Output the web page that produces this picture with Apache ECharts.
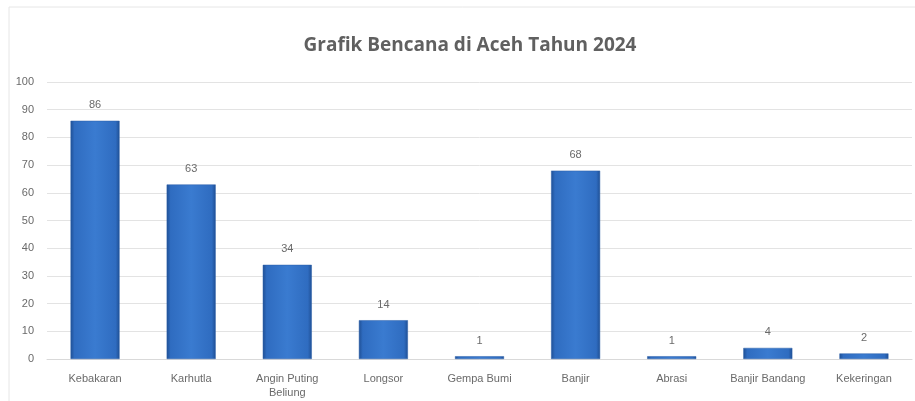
<!DOCTYPE html>
<html><head><meta charset="utf-8">
<script src="https://cdn.jsdelivr.net/npm/echarts@6/dist/echarts.min.js"></script>
<style>html,body{margin:0;padding:0;background:#fff}#c{width:915px;height:401px}</style>
</head><body><div id="c"></div>
<script>
const categories = ["Kebakaran","Karhutla","Angin Puting\nBeliung","Longsor","Gempa Bumi","Banjir","Abrasi","Banjir Bandang","Kekeringan"];
const values = [86,63,34,14,1,68,1,4,2];
const yTicks = {min:0,max:100,interval:10};

const chart = echarts.init(document.getElementById('c'));
chart.setOption({
  backgroundColor:'#fff',
  graphic:[{type:'rect',shape:{x:9,y:7,width:920,height:400},style:{fill:'none',stroke:'#e6e6e6',lineWidth:1},silent:true}],
  title:{text:'Grafik Bencana di Aceh Tahun 2024',left:465,top:31,textAlign:'center',
    textStyle:{fontFamily:'Open Sans',fontSize:19,fontWeight:'bold',color:'#606060'}},
  grid:{left:47,right:3,top:82,bottom:42,containLabel:false},
  xAxis:{type:'category',data:categories,
    axisLine:{lineStyle:{color:'#d9d9d9'}},axisTick:{show:false},
    axisLabel:{color:'#6a6a6a',fontFamily:'Liberation Sans',fontSize:11,margin:13,lineHeight:14,interval:0}},
  yAxis:{type:'value',min:yTicks.min,max:yTicks.max,interval:yTicks.interval,
    axisLine:{show:false},axisTick:{show:false},
    splitLine:{lineStyle:{color:'#e3e3e3'}},
    axisLabel:{color:'#6a6a6a',fontFamily:'Liberation Sans',fontSize:11,margin:13}},
  series:[{type:'bar',data:values,barWidth:'51%',
    itemStyle:{color:new echarts.graphic.LinearGradient(0,0,1,0,[
      {offset:0,color:'#1f4f94'},{offset:0.08,color:'#2f6cc0'},{offset:0.5,color:'#3a7bd0'},{offset:0.92,color:'#2f6cc0'},{offset:1,color:'#1f4f94'}]),
      borderColor:'#2a5ea8',borderWidth:0.5},
    label:{show:true,position:'top',distance:10,color:'#6a6a6a',fontFamily:'Liberation Sans',fontSize:11}}]
});
</script></body></html>
